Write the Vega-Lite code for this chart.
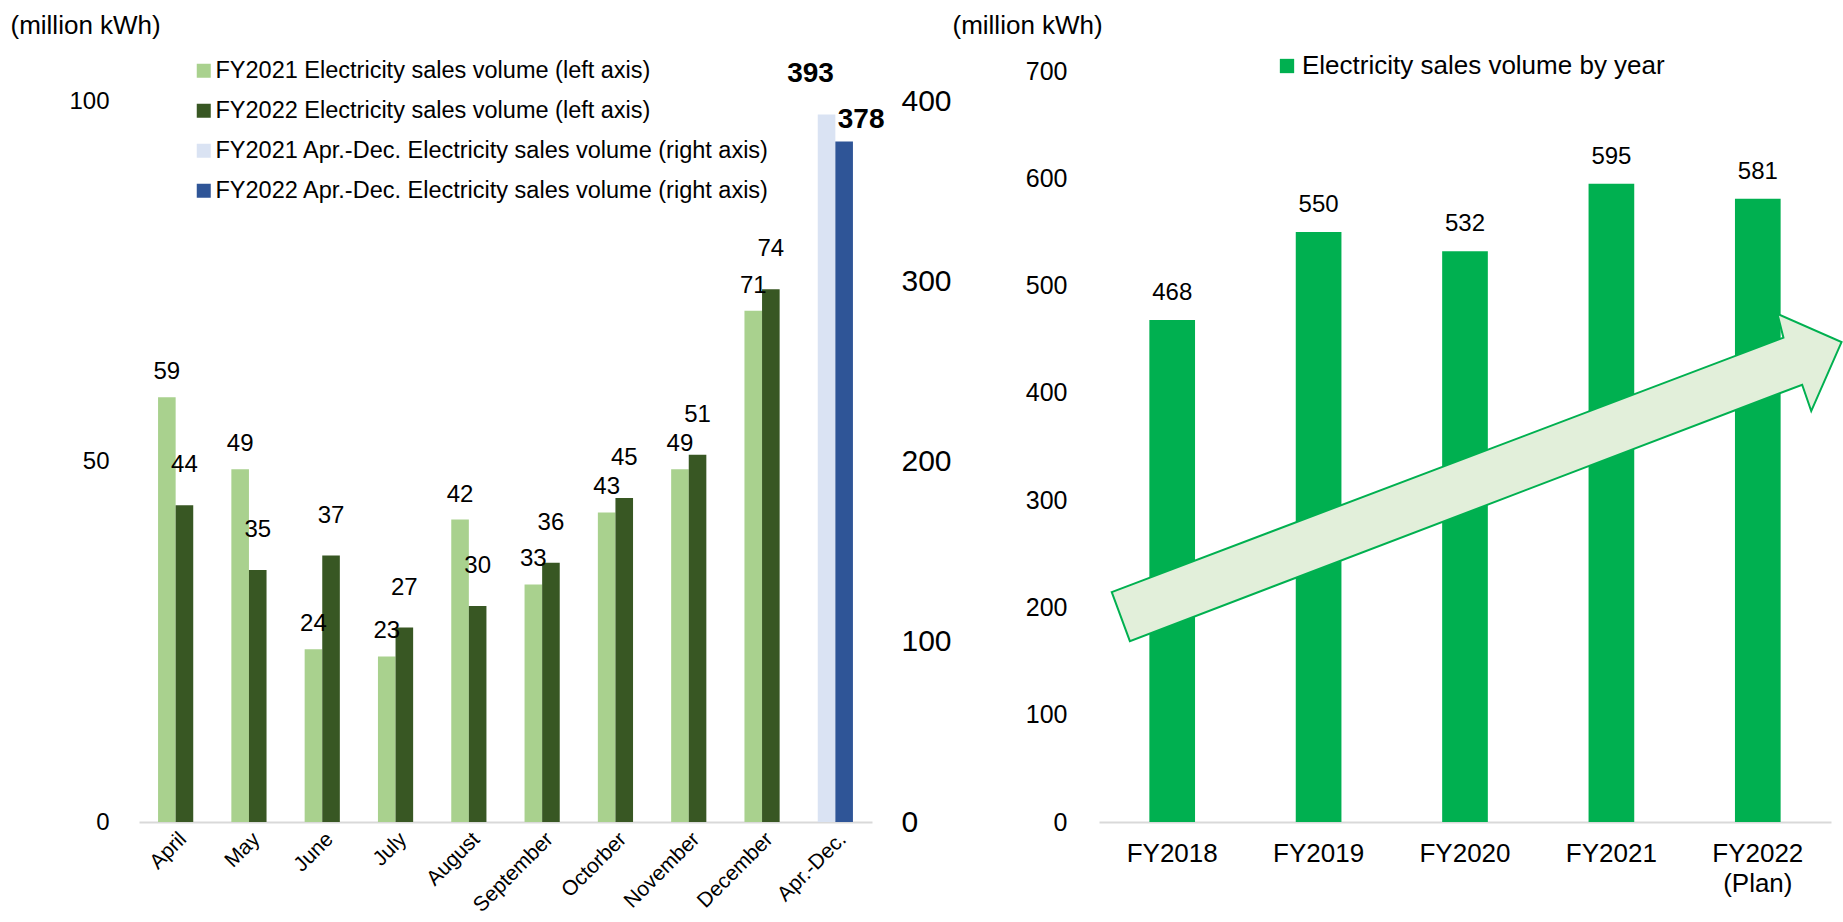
{
  "$schema": "https://vega.github.io/schema/vega-lite/v6.json",
  "autosize": {"type": "none"},
  "padding": {"left": 139, "top": 71, "right": 1704, "bottom": 851},
  "background": "white",
  "bounds": "flush",
  "spacing": 227,
  "resolve": {"scale": {"color": "independent"}, "legend": {"color": "independent"}},
  "config": {
    "font": "Liberation Sans",
    "view": {"stroke": null},
    "axis": {"labelColor": "#000000", "titleColor": "#000000", "labelFont": "Liberation Sans", "titleFont": "Liberation Sans"},
    "legend": {"labelFont": "Liberation Sans", "labelColor": "#000000", "padding": 0, "labelLimit": 0, "symbolStrokeWidth": 0}
  },
  "datasets": {
    "monthly": [
      {"month": "April", "year": "FY2021", "series": "FY2021 Electricity sales volume (left axis)", "value": 59},
      {"month": "April", "year": "FY2022", "series": "FY2022 Electricity sales volume (left axis)", "value": 44},
      {"month": "May", "year": "FY2021", "series": "FY2021 Electricity sales volume (left axis)", "value": 49},
      {"month": "May", "year": "FY2022", "series": "FY2022 Electricity sales volume (left axis)", "value": 35},
      {"month": "June", "year": "FY2021", "series": "FY2021 Electricity sales volume (left axis)", "value": 24},
      {"month": "June", "year": "FY2022", "series": "FY2022 Electricity sales volume (left axis)", "value": 37},
      {"month": "July", "year": "FY2021", "series": "FY2021 Electricity sales volume (left axis)", "value": 23},
      {"month": "July", "year": "FY2022", "series": "FY2022 Electricity sales volume (left axis)", "value": 27},
      {"month": "August", "year": "FY2021", "series": "FY2021 Electricity sales volume (left axis)", "value": 42},
      {"month": "August", "year": "FY2022", "series": "FY2022 Electricity sales volume (left axis)", "value": 30},
      {"month": "September", "year": "FY2021", "series": "FY2021 Electricity sales volume (left axis)", "value": 33},
      {"month": "September", "year": "FY2022", "series": "FY2022 Electricity sales volume (left axis)", "value": 36},
      {"month": "Octorber", "year": "FY2021", "series": "FY2021 Electricity sales volume (left axis)", "value": 43},
      {"month": "Octorber", "year": "FY2022", "series": "FY2022 Electricity sales volume (left axis)", "value": 45},
      {"month": "November", "year": "FY2021", "series": "FY2021 Electricity sales volume (left axis)", "value": 49},
      {"month": "November", "year": "FY2022", "series": "FY2022 Electricity sales volume (left axis)", "value": 51},
      {"month": "December", "year": "FY2021", "series": "FY2021 Electricity sales volume (left axis)", "value": 71},
      {"month": "December", "year": "FY2022", "series": "FY2022 Electricity sales volume (left axis)", "value": 74},
      {"month": "Apr.-Dec.", "year": "FY2021", "series": "FY2021 Apr.-Dec. Electricity sales volume (right axis)", "value": 393},
      {"month": "Apr.-Dec.", "year": "FY2022", "series": "FY2022 Apr.-Dec. Electricity sales volume (right axis)", "value": 378}
    ],
    "annual": [
      {"fy": "FY2018", "series": "Electricity sales volume by year", "value": 468},
      {"fy": "FY2019", "series": "Electricity sales volume by year", "value": 550},
      {"fy": "FY2020", "series": "Electricity sales volume by year", "value": 532},
      {"fy": "FY2021", "series": "Electricity sales volume by year", "value": 595},
      {"fy": "FY2022 (Plan)", "series": "Electricity sales volume by year", "value": 581}
    ],
    "arrow": [
      {"vertex": 0, "pos": 0.087, "level": 214.3},
      {"vertex": 1, "pos": 4.675, "level": 451.4},
      {"vertex": 2, "pos": 4.634, "level": 473.7},
      {"vertex": 3, "pos": 5.072, "level": 447.3},
      {"vertex": 4, "pos": 4.865, "level": 383.0},
      {"vertex": 5, "pos": 4.803, "level": 407.6},
      {"vertex": 6, "pos": 0.211, "level": 168.6}
    ]
  },
  "hconcat": [
    {
      "width": 733,
      "height": 751,
      "data": {"name": "monthly"},
      "encoding": {
        "x": {
          "field": "month", "type": "nominal", "sort": null, "title": null,
          "scale": {"domain": ["April", "May", "June", "July", "August", "September", "Octorber", "November", "December", "Apr.-Dec."], "paddingInner": 0.52, "paddingOuter": 0.26},
          "axis": {"labelAngle": -45, "labelFontSize": 21, "ticks": false, "domainColor": "#D9D9D9", "domainWidth": 2, "labelPadding": 6, "grid": false}
        },
        "xOffset": {"field": "year", "type": "nominal", "scale": {"domain": ["FY2021", "FY2022"]}}
      },
      "layer": [
        {
          "transform": [{"filter": "datum.month !== 'Apr.-Dec.'"}],
          "mark": {"type": "bar"},
          "encoding": {
            "y": {"field": "value", "type": "quantitative", "scale": {"domain": [0, 104.3], "nice": false},
              "axis": {"values": [0, 50, 100], "labelFontSize": 24, "labelPadding": 30, "domain": false, "ticks": false, "grid": false,
                "title": "(million kWh)", "titleAngle": 0, "titleX": -129, "titleY": -46, "titleAlign": "left", "titleBaseline": "middle", "titleFontSize": 26, "titleFontWeight": "normal"}},
            "color": {"field": "series", "type": "nominal",
              "scale": {"domain": ["FY2021 Electricity sales volume (left axis)", "FY2022 Electricity sales volume (left axis)", "FY2021 Apr.-Dec. Electricity sales volume (right axis)", "FY2022 Apr.-Dec. Electricity sales volume (right axis)"], "range": ["#A9D18E", "#385723", "#DAE3F3", "#2F5597"]},
              "legend": {"orient": "none", "legendX": 53, "legendY": -12, "title": null, "symbolType": "square", "symbolSize": 196, "labelFontSize": 23.5, "labelOffset": 0, "rowPadding": 15}}
          }
        },
        {
          "transform": [{"filter": "datum.month !== 'Apr.-Dec.' && datum.year === 'FY2021'"}],
          "mark": {"type": "text", "fontSize": 24, "baseline": "middle", "dy": -25, "color": "#000000"},
          "encoding": {
            "y": {"field": "value", "type": "quantitative", "scale": {"domain": [0, 104.3], "nice": false}, "axis": null},
            "text": {"field": "value", "type": "quantitative"}
          }
        },
        {
          "transform": [{"filter": "datum.month !== 'Apr.-Dec.' && datum.year === 'FY2022'"}],
          "mark": {"type": "text", "fontSize": 24, "baseline": "middle", "dy": -40, "color": "#000000"},
          "encoding": {
            "y": {"field": "value", "type": "quantitative", "scale": {"domain": [0, 104.3], "nice": false}, "axis": null},
            "text": {"field": "value", "type": "quantitative"}
          }
        },
        {
          "transform": [{"filter": "datum.month === 'Apr.-Dec.'"}],
          "mark": {"type": "bar"},
          "encoding": {
            "y": {"field": "value", "type": "quantitative", "scale": {"domain": [0, 417.2], "nice": false},
              "axis": {"orient": "right", "values": [0, 100, 200, 300, 400], "labelFontSize": 30, "labelPadding": 29, "domain": false, "ticks": false, "grid": false, "title": null}},
            "color": {"field": "series", "type": "nominal",
              "scale": {"domain": ["FY2021 Electricity sales volume (left axis)", "FY2022 Electricity sales volume (left axis)", "FY2021 Apr.-Dec. Electricity sales volume (right axis)", "FY2022 Apr.-Dec. Electricity sales volume (right axis)"], "range": ["#A9D18E", "#385723", "#DAE3F3", "#2F5597"]},
              "legend": {"orient": "none", "legendX": 53, "legendY": -12, "title": null, "symbolType": "square", "symbolSize": 196, "labelFontSize": 23.5, "labelOffset": 0, "rowPadding": 15}}
          }
        },
        {
          "transform": [{"filter": "datum.month === 'Apr.-Dec.' && datum.year === 'FY2021'"}],
          "mark": {"type": "text", "fontSize": 28, "fontWeight": "bold", "baseline": "middle", "dx": -16, "dy": -41, "color": "#000000"},
          "encoding": {
            "y": {"field": "value", "type": "quantitative", "scale": {"domain": [0, 417.2], "nice": false}, "axis": null},
            "text": {"field": "value", "type": "quantitative"}
          }
        },
        {
          "transform": [{"filter": "datum.month === 'Apr.-Dec.' && datum.year === 'FY2022'"}],
          "mark": {"type": "text", "fontSize": 28, "fontWeight": "bold", "baseline": "middle", "dx": 17, "dy": -22, "color": "#000000"},
          "encoding": {
            "y": {"field": "value", "type": "quantitative", "scale": {"domain": [0, 417.2], "nice": false}, "axis": null},
            "text": {"field": "value", "type": "quantitative"}
          }
        }
      ],
      "resolve": {"scale": {"y": "independent"}}
    },
    {
      "width": 732,
      "height": 751,
      "layer": [
        {
          "data": {"name": "annual"},
          "mark": {"type": "bar", "color": "#00B050"},
          "encoding": {
            "x": {"field": "fy", "type": "nominal", "sort": null, "title": null,
              "scale": {"domain": ["FY2018", "FY2019", "FY2020", "FY2021", "FY2022 (Plan)"], "paddingInner": 0.688, "paddingOuter": 0.344},
              "axis": {"labelAngle": 0, "labelFontSize": 26, "ticks": false, "domainColor": "#D9D9D9", "domainWidth": 2, "labelPadding": 18, "labelLineHeight": 30, "grid": false,
                "labelExpr": "datum.value === 'FY2022 (Plan)' ? ['FY2022', '(Plan)'] : datum.label"}},
            "y": {"field": "value", "type": "quantitative", "scale": {"domain": [0, 700], "nice": false},
              "axis": {"values": [0, 100, 200, 300, 400, 500, 600, 700], "labelFontSize": 25, "labelPadding": 32, "domain": false, "ticks": false, "grid": false,
                "title": "(million kWh)", "titleAngle": 0, "titleX": -147, "titleY": -46, "titleAlign": "left", "titleBaseline": "middle", "titleFontSize": 26, "titleFontWeight": "normal"}},
            "color": {"field": "series", "type": "nominal", "scale": {"domain": ["Electricity sales volume by year"], "range": ["#00B050"]},
              "legend": {"orient": "none", "legendX": 175, "legendY": -18, "title": null, "symbolType": "square", "symbolSize": 205, "labelFontSize": 26, "labelOffset": 2}}
          }
        },
        {
          "data": {"name": "arrow"},
          "mark": {"type": "line", "interpolate": "linear-closed", "fill": "#E2EFDA", "stroke": "#00B050", "strokeWidth": 2, "clip": false},
          "encoding": {
            "x": {"field": "pos", "type": "quantitative", "scale": {"domain": [0, 5], "nice": false, "zero": false}, "axis": null},
            "y": {"field": "level", "type": "quantitative", "scale": {"domain": [0, 700], "nice": false},
              "axis": {"values": [0, 100, 200, 300, 400, 500, 600, 700], "labelFontSize": 25, "labelPadding": 32, "domain": false, "ticks": false, "grid": false,
                "title": "(million kWh)", "titleAngle": 0, "titleX": -147, "titleY": -46, "titleAlign": "left", "titleBaseline": "middle", "titleFontSize": 26, "titleFontWeight": "normal"}},
            "order": {"field": "vertex", "type": "quantitative"}
          }
        },
        {
          "data": {"name": "annual"},
          "mark": {"type": "text", "fontSize": 24, "baseline": "middle", "dy": -27, "color": "#000000"},
          "encoding": {
            "x": {"field": "fy", "type": "nominal", "sort": null, "title": null,
              "scale": {"domain": ["FY2018", "FY2019", "FY2020", "FY2021", "FY2022 (Plan)"], "paddingInner": 0.688, "paddingOuter": 0.344}, "axis": null},
            "y": {"field": "value", "type": "quantitative", "scale": {"domain": [0, 700], "nice": false},
              "axis": {"values": [0, 100, 200, 300, 400, 500, 600, 700], "labelFontSize": 25, "labelPadding": 32, "domain": false, "ticks": false, "grid": false,
                "title": "(million kWh)", "titleAngle": 0, "titleX": -147, "titleY": -46, "titleAlign": "left", "titleBaseline": "middle", "titleFontSize": 26, "titleFontWeight": "normal"}},
            "text": {"field": "value", "type": "quantitative"}
          }
        }
      ],
      "resolve": {"scale": {"x": "independent"}}
    }
  ]
}
